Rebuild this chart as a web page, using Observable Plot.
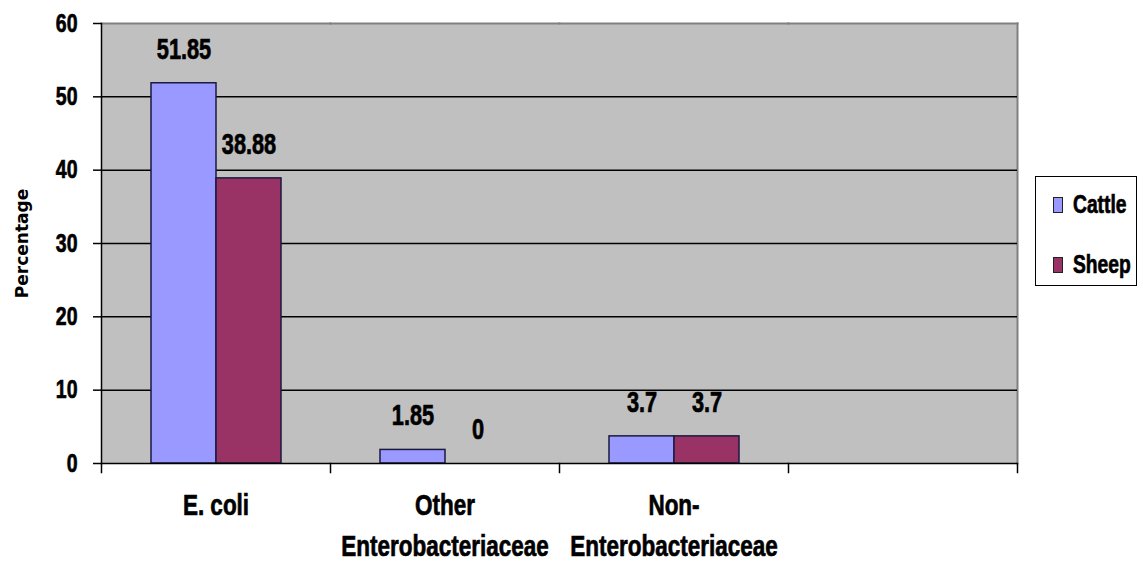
<!DOCTYPE html>
<html><head><meta charset="utf-8">
<script src="https://cdn.jsdelivr.net/npm/d3@7"></script>
<script src="https://cdn.jsdelivr.net/npm/@observablehq/plot@0.6"></script>
<style>
body{margin:0;background:#fff;}
#wrap{position:relative;width:1143px;height:564px;overflow:hidden;}
#legend{position:absolute;left:1035px;top:176px;width:102px;height:110px;border:1.5px solid #000;box-sizing:border-box;background:#fff;
  font-family:"Liberation Sans",Arial,sans-serif;font-weight:bold;font-size:26px;color:#000;}
.item{position:absolute;left:17px;display:flex;align-items:center;white-space:nowrap;}
.sw{width:10px;height:16px;border:1.5px solid #222;margin-right:10px;box-sizing:border-box;}
.lbl{display:inline-block;transform:scaleX(0.74);transform-origin:left center;-webkit-text-stroke:0.7px #000;}
.sq text{stroke:#000;stroke-width:0.7px;}
</style></head>
<body>
<div id="wrap"><div id="chart"></div><div id="legend"></div></div>
<script>
const categories = ["E. coli", "Other\nEnterobacteriaceae", "Non-\nEnterobacteriaceae", " "];
const seriesNames = ["Cattle", "Sheep"];
const cattle = [51.85, 1.85, 3.7];
const sheep = [38.88, 0, 3.7];
const yTicks = [0, 10, 20, 30, 40, 50, 60];
const colors = ["#9999FF", "#993366"];

const rows = [];
for (let i = 0; i < cattle.length; i++) {
  rows.push({category: categories[i], series: "Cattle", value: cattle[i]});
  rows.push({category: categories[i], series: "Sheep", value: sheep[i]});
}
const font = '"Liberation Sans",Arial,sans-serif';

const chart = Plot.plot({
  width: 1143, height: 564,
  marginLeft: 100, marginRight: 126, marginTop: 23, marginBottom: 101,
  style: {fontFamily: font, fontWeight: "bold", color: "#000", background: "transparent", overflow: "visible"},
  fx: {domain: categories, padding: 0, label: null},
  x: {domain: seriesNames, paddingInner: 0, paddingOuter: 0.75, axis: null},
  y: {domain: [0, 60], label: null},
  color: {domain: seriesNames, range: colors},
  marks: [
    Plot.rect(categories, {fx: d => d, fill: "#C0C0C0"}),
    Plot.frame({anchor: "top", stroke: "#808080", strokeWidth: 2}),
    Plot.frame({anchor: "right", stroke: "#808080", strokeWidth: 2, facetAnchor: "right"}),
    Plot.gridY(yTicks.filter(t => t > 0 && t < 60), {stroke: "#000", strokeOpacity: 1, strokeWidth: 1.5}),
    Plot.barY(rows, {fx: "category", x: "series", y: "value", fill: "series", stroke: "#1a1a40", strokeWidth: 1.5}),
    Plot.text(rows, {fx: "category", x: "series", y: "value", text: d => String(d.value), dy: -34,
      fontSize: 29, fontWeight: "bold", fontFamily: font, fill: "#000", className: "sq"}),
    Plot.ruleY([0], {stroke: "#000", strokeWidth: 1.5}),
    Plot.frame({anchor: "left", stroke: "#000", strokeWidth: 1.5, facetAnchor: "left"}),
    Plot.frame({anchor: "left", stroke: "#000", strokeWidth: 1.5, insetTop: 440, insetBottom: -9}),
    Plot.frame({anchor: "right", stroke: "#000", strokeWidth: 1.5, insetTop: 440, insetBottom: -9, facetAnchor: "right"}),
    Plot.axisY({ticks: yTicks, tickSize: 8, tickPadding: 16, fontSize: 26, label: null, stroke: "#000", strokeWidth: 1.5, className: "sq"}),
    Plot.text(["Percentage"], {frameAnchor: "left", textAnchor: "middle", rotate: -90, dx: -79, fontSize: 17, fontWeight: "bold",
      fontFamily: '"DejaVu Sans",sans-serif', fill: "#000", facetAnchor: "left"}),
    Plot.axisFx({anchor: "bottom", tickSize: 0, tickPadding: 22, fontSize: 30, lineHeight: 1.38, label: null, className: "sq"})
  ]
});
document.getElementById("chart").appendChild(chart);

// emulate a narrow bold face by compressing the text horizontally about its anchor
const squeeze = 0.75;
chart.querySelectorAll("text").forEach(el => {
  if (el.textContent === "Percentage") return;
  const b = el.getBBox();
  const anchor = getComputedStyle(el).textAnchor;
  const cx = anchor === "end" ? b.x + b.width : anchor === "start" ? b.x : b.x + b.width / 2;
  const t = el.getAttribute("transform") || "";
  el.setAttribute("transform", `${t} translate(${cx},0) scale(${squeeze},1) translate(${-cx},0)`);
});

const legend = document.getElementById("legend");
seriesNames.forEach((s, i) => {
  const it = document.createElement("div");
  it.className = "item";
  it.style.top = (i === 0 ? 12 : 72) + "px";
  const sw = document.createElement("div");
  sw.className = "sw";
  sw.style.background = colors[i];
  const t = document.createElement("span");
  t.className = "lbl";
  t.textContent = s;
  it.appendChild(sw); it.appendChild(t);
  legend.appendChild(it);
});
</script>
</body></html>
